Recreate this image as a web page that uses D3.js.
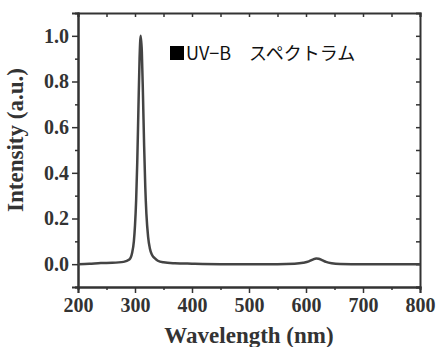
<!DOCTYPE html>
<html>
<head>
<meta charset="utf-8">
<script src="https://cdn.jsdelivr.net/npm/d3@7"></script>
<style>
  body { margin: 0; background: #fff; }
  .axis path, .axis line { stroke: #333; }
</style>
</head>
<body>
<svg id="chart" width="436" height="347"></svg>
<script>
// spectrum
const wavelength = [200, 220, 240, 260, 280, 290, 295, 298, 300, 302, 304, 306, 308, 310, 312, 314, 316, 318, 320, 323, 326, 330, 335, 340, 350, 370, 400, 450, 500, 550, 580, 595, 605, 612, 618, 622, 628, 635, 645, 660, 700, 750, 800];
const intensity  = [0.0, 0.002, 0.005, 0.006, 0.01, 0.02, 0.05, 0.1, 0.17, 0.28, 0.45, 0.68, 0.9, 1.0, 0.93, 0.74, 0.52, 0.34, 0.22, 0.12, 0.07, 0.04, 0.025, 0.015, 0.008, 0.004, 0.002, 0.0, 0.0, 0.0, 0.002, 0.006, 0.012, 0.02, 0.025, 0.024, 0.018, 0.01, 0.004, 0.001, 0.0, 0.0, 0.0];
const xTicks = [200, 300, 400, 500, 600, 700, 800];
const yTicks = [0.0, 0.2, 0.4, 0.6, 0.8, 1.0];
const legendLabel = "UV\u2212B\u3000スペクトラム";

const svg     = d3.select("#chart"),
      margin  = {top: 13, right: 16, bottom: 60, left: 78},
      width   = +svg.attr("width")  - margin.left - margin.right,
      height  = +svg.attr("height") - margin.top  - margin.bottom,
      x       = d3.scaleLinear().domain([200, 800]).range([0, width]),
      y       = d3.scaleLinear().domain([-0.1, 1.1]).range([height, 0]),
      g       = svg.append("g")
                   .attr("transform", `translate(${margin.left},${margin.top})`);

const data = wavelength.map((w, i) => ({w: w, v: intensity[i]}));
const minorX = d3.range(250, 800, 100);
const minorY = [-0.1, 0.1, 0.3, 0.5, 0.7, 0.9];

// outward ticks, bottom + left
g.append("g")
    .attr("class", "axis")
    .attr("transform", `translate(0,${height})`)
    .call(d3.axisBottom(x).tickValues(xTicks).tickSize(6).tickPadding(5).tickFormat(d3.format("d")));
g.append("g")
    .attr("class", "axis")
    .attr("transform", `translate(0,${height})`)
    .call(d3.axisBottom(x).tickValues(minorX).tickSize(3).tickFormat(""));

g.append("g")
    .attr("class", "axis")
    .call(d3.axisLeft(y).tickValues(yTicks).tickSize(6).tickPadding(3).tickFormat(d3.format(".1f")));
g.append("g")
    .attr("class", "axis")
    .call(d3.axisLeft(y).tickValues(minorY).tickSize(3).tickFormat(""));

// inward ticks, top + right
g.append("g")
    .attr("class", "axis")
    .call(d3.axisTop(x).tickValues(xTicks.concat(minorX)).tickSize(-4).tickFormat(""));
g.append("g")
    .attr("class", "axis")
    .attr("transform", `translate(${width},0)`)
    .call(d3.axisRight(y).tickValues(yTicks.concat(minorY)).tickSize(-4).tickFormat(""));

g.selectAll(".axis path").attr("stroke-width", 2);
g.selectAll(".axis line").attr("stroke-width", 1.5);
g.selectAll(".axis text")
    .style("font-family", "'Liberation Serif', serif")
    .style("font-weight", "bold")
    .style("font-size", "20px")
    .attr("fill", "#333");

g.append("path")
    .datum(data)
    .attr("fill", "none")
    .attr("stroke", "#444")
    .attr("stroke-width", 2.5)
    .attr("d", d3.line().x(d => x(d.w)).y(d => y(d.v)).curve(d3.curveMonotoneX));

// legend
g.append("rect")
    .attr("x", 92)
    .attr("y", 33)
    .attr("width", 14)
    .attr("height", 14)
    .attr("fill", "#000");

g.append("text")
    .attr("x", 108)
    .attr("y", 47)
    .style("font-family", "'Noto Sans CJK JP', sans-serif")
    .style("font-size", "18px")
    .attr("fill", "#111")
    .text(legendLabel);

// axis titles
g.append("text")
    .attr("transform", "rotate(-90)")
    .attr("y", -55)
    .attr("x", -127)
    .style("text-anchor", "middle")
    .style("font-family", "'Liberation Serif', serif")
    .style("font-weight", "bold")
    .style("font-size", "23px")
    .attr("fill", "#333")
    .text("Intensity (a.u.)");

g.append("text")
    .attr("transform", `translate(${x(500)},${height + 56})`)
    .style("text-anchor", "middle")
    .style("font-family", "'Liberation Serif', serif")
    .style("font-weight", "bold")
    .style("font-size", "23px")
    .attr("fill", "#333")
    .text("Wavelength (nm)");
</script>
</body>
</html>
